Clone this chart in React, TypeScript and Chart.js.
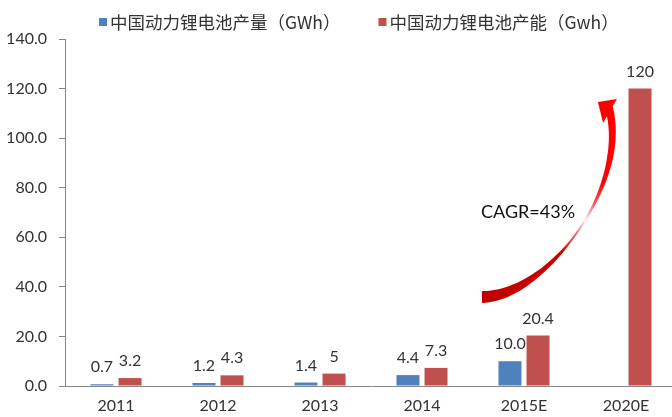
import React, { useEffect, useRef } from 'react';
import { Chart, registerables } from 'chart.js';

Chart.register(...registerables);

const categories = ['2011', '2012', '2013', '2014', '2015E', '2020E'];
const outputLabel = '中国动力锂电池产量（GWh）';
const capacityLabel = '中国动力锂电池产能（Gwh）';
const outputValues: (number | null)[] = [0.7, 1.2, 1.4, 4.4, 10.0, null];
const capacityValues: number[] = [3.2, 4.3, 5, 7.3, 20.4, 120];
const outputValueLabels = ['0.7', '1.2', '1.4', '4.4', '10.0', ''];
const capacityValueLabels = ['3.2', '4.3', '5', '7.3', '20.4', '120'];
const yMin = 0;
const yMax = 140;
const yStep = 20;
const cagrText = 'CAGR=43%';
// annotation (curved arrow), in [category index, value] units
const cagrTextPos: [number, number] = [4.04, 70.0];
const arrowCurve: [number, number][] = [
  [3.588, 35.9],
  [4.235, 36.3],
  [5.039, 81.1],
  [4.833, 112.2],
];
const arrowHead: [number, number][] = [
  [4.725, 114.6],
  [4.912, 115.8],
  [4.775, 106.1],
];

const BLUE = '#4F81BD';
const RED = '#C0504D';
const AXIS = '#868686';
const TEXT = '#333333';
const FONT = 'Lato, "Noto Sans CJK SC", sans-serif';
const LEGEND_FONT = '"Noto Sans CJK SC", sans-serif';

const widthKnots: [number, number][] = [
  [0, 12], [0.12, 10], [0.3, 5], [0.45, 2], [0.6, 2.5], [0.8, 6], [1, 8],
];
function widthAt(t: number) {
  for (let i = 1; i < widthKnots.length; i++) {
    const [t0, w0] = widthKnots[i - 1];
    const [t1, w1] = widthKnots[i];
    if (t <= t1) return w0 + ((t - t0) / (t1 - t0)) * (w1 - w0);
  }
  return widthKnots[widthKnots.length - 1][1];
}

const labelsPlugin = {
  id: 'valueLabels',
  afterDatasetsDraw(chart: any) {
    const ctx = chart.ctx;
    const lists = [outputValueLabels, capacityValueLabels];
    ctx.save();
    ctx.font = `16px ${FONT}`;
    ctx.fillStyle = TEXT;
    ctx.textAlign = 'center';
    ctx.textBaseline = 'middle';
    chart.data.datasets.forEach((ds: any, di: number) => {
      const meta = chart.getDatasetMeta(di);
      meta.data.forEach((el: any, i: number) => {
        const txt = lists[di][i];
        if (!txt || ds.data[i] == null) return;
        ctx.fillText(txt, el.x, el.y - 17);
      });
    });
    ctx.restore();
  },
};

const arrowPlugin = {
  id: 'cagrArrow',
  afterDatasetsDraw(chart: any) {
    const ctx = chart.ctx;
    const xs = chart.scales.x;
    const ys = chart.scales.y;
    const px = (p: [number, number]) => ({
      x: xs.getPixelForValue(p[0]),
      y: ys.getPixelForValue(p[1]),
    });
    const [P0, P1, P2, P3] = arrowCurve.map(px);
    const bez = (t: number) => {
      const u = 1 - t;
      return {
        x: u * u * u * P0.x + 3 * u * u * t * P1.x + 3 * u * t * t * P2.x + t * t * t * P3.x,
        y: u * u * u * P0.y + 3 * u * u * t * P1.y + 3 * u * t * t * P2.y + t * t * t * P3.y,
      };
    };
    const der = (t: number) => {
      const u = 1 - t;
      return {
        x: 3 * u * u * (P1.x - P0.x) + 6 * u * t * (P2.x - P1.x) + 3 * t * t * (P3.x - P2.x),
        y: 3 * u * u * (P1.y - P0.y) + 6 * u * t * (P2.y - P1.y) + 3 * t * t * (P3.y - P2.y),
      };
    };
    const N = 60;
    const left: { x: number; y: number }[] = [];
    const right: { x: number; y: number }[] = [];
    for (let i = 0; i <= N; i++) {
      const t = i / N;
      const p = bez(t);
      const d = der(t);
      const len = Math.hypot(d.x, d.y) || 1;
      const nx = -d.y / len;
      const ny = d.x / len;
      const w = widthAt(t) / 2;
      left.push({ x: p.x + nx * w, y: p.y + ny * w });
      right.push({ x: p.x - nx * w, y: p.y - ny * w });
    }
    ctx.save();
    const g = ctx.createLinearGradient(P0.x, P0.y, P3.x, P3.y);
    g.addColorStop(0, '#c00000');
    g.addColorStop(0.36, '#d00000');
    g.addColorStop(0.47, '#f08080');
    g.addColorStop(0.53, '#fff0f0');
    g.addColorStop(0.62, '#ff5050');
    g.addColorStop(0.72, '#ff0000');
    g.addColorStop(1, '#ff0000');
    ctx.fillStyle = g;
    ctx.beginPath();
    ctx.moveTo(left[0].x, left[0].y);
    for (let i = 1; i < left.length; i++) ctx.lineTo(left[i].x, left[i].y);
    for (let i = right.length - 1; i >= 0; i--) ctx.lineTo(right[i].x, right[i].y);
    ctx.closePath();
    ctx.fill();
    const h = arrowHead.map(px);
    ctx.fillStyle = '#ff0000';
    ctx.beginPath();
    ctx.moveTo(h[0].x, h[0].y);
    ctx.lineTo(h[1].x, h[1].y);
    ctx.lineTo(h[2].x, h[2].y);
    ctx.closePath();
    ctx.fill();
    const tp = px(cagrTextPos);
    ctx.font = `18px ${FONT}`;
    ctx.fillStyle = '#111111';
    ctx.textAlign = 'center';
    ctx.textBaseline = 'middle';
    ctx.fillText(cagrText, tp.x, tp.y);
    ctx.restore();
  },
};

const legendPlugin = {
  id: 'customLegend',
  afterDraw(chart: any) {
    const ctx = chart.ctx;
    ctx.save();
    ctx.font = `17.5px ${LEGEND_FONT}`;
    ctx.textBaseline = 'middle';
    ctx.textAlign = 'left';
    let x = 99;
    const y = 22;
    chart.data.datasets.forEach((ds: any) => {
      ctx.fillStyle = ds.backgroundColor;
      ctx.fillRect(x, y - 4, 8, 8);
      ctx.fillStyle = TEXT;
      ctx.fillText(ds.label, x + 11, y);
      x += 11 + ctx.measureText(ds.label).width + 38;
    });
    ctx.restore();
  },
};

export default function App() {
  const ref = useRef<HTMLCanvasElement | null>(null);
  useEffect(() => {
    if (!ref.current) return;
    const chart = new Chart(ref.current, {
      type: 'bar',
      data: {
        labels: categories,
        datasets: [
          {
            label: outputLabel,
            data: outputValues,
            backgroundColor: BLUE,
            categoryPercentage: 0.55,
            barPercentage: 0.82,
          },
          {
            label: capacityLabel,
            data: capacityValues,
            backgroundColor: RED,
            categoryPercentage: 0.55,
            barPercentage: 0.82,
          },
        ],
      },
      options: {
        responsive: false,
        animation: false,
        devicePixelRatio: 1,
        layout: { padding: { left: 0, right: 3, top: 39, bottom: 0 } },
        plugins: {
          legend: { display: false },
          tooltip: { enabled: false },
        },
        scales: {
          x: {
            grid: { display: false, drawTicks: false },
            border: { display: true, color: AXIS, width: 1 },
            ticks: { color: TEXT, font: { family: FONT, size: 16 }, padding: 10, maxRotation: 0 },
            afterFit: (s: any) => { s.height = 31; },
          },
          y: {
            min: yMin,
            max: yMax,
            grid: { drawOnChartArea: false, drawTicks: true, tickLength: 6, color: AXIS },
            border: { display: true, color: AXIS, width: 1 },
            ticks: {
              stepSize: yStep,
              color: TEXT,
              font: { family: FONT, size: 16 },
              padding: 12,
              callback: (v: any) => Number(v).toFixed(1),
            },
            afterFit: (s: any) => { s.width = 65; },
          },
        },
      },
      plugins: [labelsPlugin, arrowPlugin, legendPlugin],
    });
    return () => chart.destroy();
  }, []);
  return (
    <div style={{ position: 'fixed', left: 0, top: 0, width: 672, height: 417, overflow: 'hidden', background: '#fff' }}>
      <canvas ref={ref} width={680} height={417} style={{ display: 'block', width: 680, height: 417 }} />
    </div>
  );
}
